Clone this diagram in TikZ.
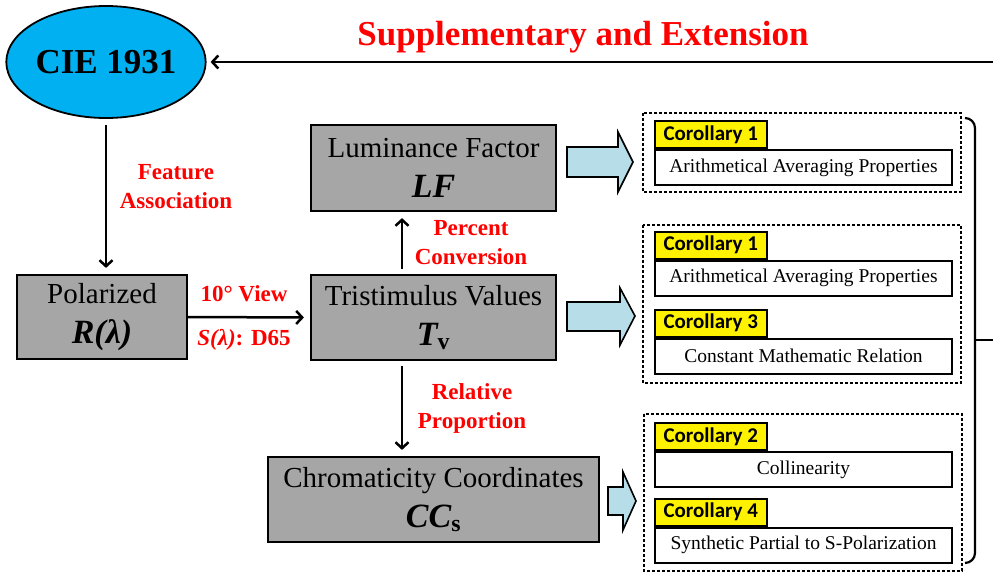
\documentclass[tikz,border=0pt]{standalone}
\usepackage{fontspec}
\setmainfont{Liberation Serif}
\newfontfamily\carlito{Carlito}
\usetikzlibrary{shapes.geometric,arrows.meta}
\definecolor{cieblue}{RGB}{0,176,240}
\definecolor{boxgray}{RGB}{166,166,166}
\definecolor{lblue}{RGB}{183,222,232}
\definecolor{lblred}{RGB}{255,0,0}
\tikzset{
  graybox/.style={draw=black,line width=2.2pt,fill=boxgray,inner sep=0pt,align=center,
    font=\fontsize{29}{40}\selectfont},
  redlbl/.style={text=lblred,font=\fontsize{23}{29}\selectfont\bfseries,align=center},
  conn/.style={line width=2.5pt,-{Straight Barb[length=6pt,width=13pt,line width=2.5pt]}},
  dotbox/.style={draw=black,line width=2pt,dash pattern=on 3pt off 2pt},
  corlbl/.style={draw=black,line width=1.6pt,fill=yellow,minimum width=112pt,minimum height=27pt,
    inner sep=0pt,font=\carlito\bfseries\fontsize{21}{24}\selectfont},
  whitebox/.style={draw=black,line width=2pt,fill=white,minimum width=297pt,minimum height=35pt,
    inner sep=0pt,font=\fontsize{19.5}{22}\selectfont},
  blockarr/.style={draw=black,line width=1.6pt,fill=lblue,line join=miter}
}
\begin{document}
\begin{tikzpicture}[x=1pt,y=-1pt]
\useasboundingbox (0,0) rectangle (993,574);
\fill[white] (0,0) rectangle (993,574);
% CIE ellipse
\node[ellipse,draw=black,line width=1.8pt,fill=cieblue,minimum width=192pt,minimum height=112pt,inner sep=0pt,
  font=\fontsize{35}{40}\selectfont\bfseries] (cie) at (106,62) {CIE 1931};
% title
\node[text=lblred,font=\fontsize{35}{40}\selectfont\bfseries] (title) at (583,37) {Supplementary and Extension};
\coordinate (topright) at (993,62);
\draw[conn,shorten >=4pt] (topright) -- (cie.east);
% boxes
\node[graybox,minimum width=170pt,minimum height=84pt] (pol) at (102,317)
  {Polarized\\{\fontsize{34}{40}\selectfont\bfseries\itshape R(λ)}};
\node[graybox,minimum width=245pt,minimum height=85pt] (tri) at (433.5,317.5)
  {Tristimulus Values\\{\fontsize{34}{40}\selectfont\bfseries\itshape T\textsubscript{\upshape v}}};
\node[graybox,minimum width=245pt,minimum height=86pt] (lf) at (433.5,168)
  {Luminance Factor\\{\fontsize{34}{40}\selectfont\bfseries\itshape LF}};
\node[graybox,minimum width=331pt,minimum height=85pt] (cc) at (433.5,499.5)
  {Chromaticity Coordinates\\{\fontsize{34}{40}\selectfont\bfseries\itshape CC\textsubscript{\upshape s}}};
% connectors
\coordinate (cb) at (106,118);
\draw[conn,shorten <=7pt,shorten >=6pt] (cb) -- (pol.north -| cb);
\draw[conn,shorten >=6pt] (pol.east) -- (tri.west);
\coordinate (vx) at (402,0);
\draw[conn,shorten <=5pt,shorten >=6pt] (tri.north -| vx) -- (lf.south -| vx);
\draw[conn,shorten <=5pt,shorten >=6pt] (tri.south -| vx) -- (cc.north -| vx);
% red labels
\node[redlbl] (fa) at (176,187) {Feature\\Association};
\node[redlbl] (view) at (244,294) {10° View};
\node[redlbl] (sl) at (244,340) {\itshape S\/(λ)\upshape: D65};
\node[redlbl] (pc) at (471,243) {Percent\\Conversion};
\node[redlbl] (rp) at (472,408) {Relative\\Proportion};
% block arrows
\draw[blockarr] (567,147)--(618,147)--(618,132)--(633,162)--(618,192)--(618,177)--(567,177)--cycle;
\draw[blockarr] (567,302)--(620,302)--(620,288)--(635,316)--(620,345)--(620,331)--(567,331)--cycle;
\draw[blockarr] (608,487)--(623,487)--(623,472)--(636,501)--(623,530)--(623,515)--(608,515)--cycle;
% dotted groups
\draw[dotbox] (643,113) rectangle (961,192);
\draw[dotbox] (643,225) rectangle (961,383);
\draw[dotbox] (644,414) rectangle (962,571);
% corollary boxes
\node[whitebox] (w1) at (803.5,167.5) {Arithmetical Averaging Properties};
\node[corlbl,anchor=south west] (c1) at (w1.north west) {Corollary 1};
\node[whitebox] (w2) at (803.5,278) {Arithmetical Averaging Properties};
\node[corlbl,anchor=south west] (c2) at (w2.north west) {Corollary 1};
\node[whitebox] (w3) at (803.5,356) {Constant Mathematic Relation};
\node[corlbl,anchor=south west] (c3) at (w3.north west) {Corollary 3};
\node[whitebox] (w4) at (803.5,469.5) {Collinearity};
\node[corlbl,anchor=south west] (c4) at (w4.north west) {Corollary 2};
\node[whitebox] (w5) at (803.5,545) {Synthetic Partial to S-Polarization};
\node[corlbl,anchor=south west] (c5) at (w5.north west) {Corollary 4};
% bracket
\draw[line width=2.2pt,rounded corners=10pt] (965,118) -- (975,118) -- (975,563) -- (965,563);
\coordinate (bmid) at (975,340);
\coordinate (bright) at (993,340);
\draw[line width=2.2pt] (bmid) -- (bright);
\end{tikzpicture}
\end{document}
